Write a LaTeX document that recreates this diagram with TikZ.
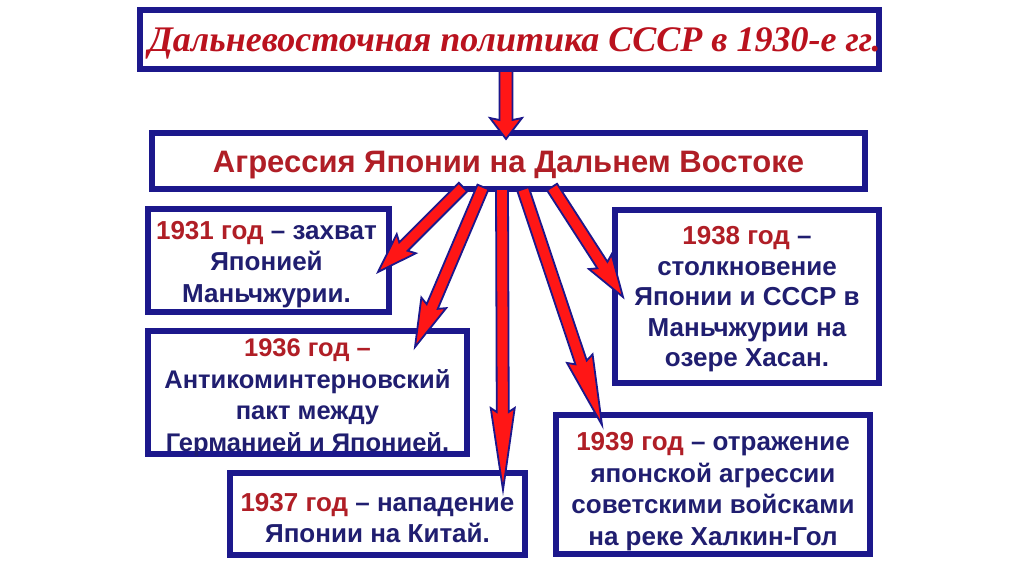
\documentclass[tikz,border=0pt]{standalone}
\usepackage{fontspec}
\setmainfont{Liberation Sans}
\newfontfamily\titlefont{Liberation Serif}
\usetikzlibrary{calc}
\definecolor{navy}{RGB}{28,24,140}
\definecolor{txtblue}{RGB}{32,30,112}
\definecolor{yr}{RGB}{176,30,38}
\definecolor{titred}{RGB}{186,18,30}
\definecolor{arrred}{RGB}{255,22,22}
\newcommand{\yr}[1]{\textcolor{yr}{#1}}
% #1 start, #2 tip, #3 shaft half width, #4 head half width, #5 neck distance, #6 barb distance
\newcommand{\fatarrow}[6]{%
  \coordinate (fan) at ($(#2)!#5!(#1)$);
  \coordinate (fab) at ($(#2)!#6!(#1)$);
  \filldraw[fatarr] ($(#1)!#3!90:(#2)$) -- ($(fan)!#3!-90:(#1)$) -- ($(fab)!#4!-90:(#1)$)
    -- (#2) -- ($(fab)!#4!90:(#1)$) -- ($(fan)!#3!90:(#1)$) -- ($(#1)!#3!-90:(#2)$) -- cycle;
}
\tikzset{
  box/.style={draw=navy, line width=6.5pt, fill=white, inner sep=0pt},
  boxtext/.style={inner sep=0pt, align=center, text=txtblue,
    font=\fontsize{26}{31.5}\selectfont\bfseries},
  fatarr/.style={fill=arrred, draw=navy, line width=1.8pt, line join=miter},
}
\begin{document}
\begin{tikzpicture}[x=1pt,y=-1pt]
\useasboundingbox (0,0) rectangle (1024,574);
\fill[white] (0,0) rectangle (1024,574);

% boxes
\node[box, minimum width=739pt, minimum height=59pt] (title) at (509.5,39.5) {};
\node[box, minimum width=713pt, minimum height=56pt] (agr) at (508.5,161) {};
\node[box, minimum width=241pt, minimum height=103pt] (b31) at (268.5,260.5) {};
\node[box, minimum width=319pt, minimum height=123pt] (b36) at (307.5,392.5) {};
\node[box, minimum width=295pt, minimum height=82pt] (b37) at (377.5,514) {};
\node[box, minimum width=264pt, minimum height=173pt] (b38) at (747,296.5) {};
\node[box, minimum width=314pt, minimum height=139pt] (b39) at (713,484.5) {};

% texts
\node[inner sep=0pt, text=titred, font=\titlefont\bfseries\itshape\fontsize{36}{40}\selectfont]
  (titleT) at ($(title)+(5,4)$) {Дальневосточная политика СССР в 1930-е гг.};
\node[inner sep=0pt, text=yr, font=\fontsize{31}{34}\selectfont\bfseries]
  (agrT) at ($(agr)+(0,4)$) {Агрессия Японии на Дальнем Востоке};
\node[boxtext] (b31T) at ($(b31)+(-2,4)$) {\yr{1931 год} – захват\\Японией\\Маньчжурии.};
\node[boxtext, font=\fontsize{25.5}{31.5}\selectfont\bfseries] (b36T) at ($(b36)+(0,5)$) {\yr{1936 год –}\\Антикоминтерновский\\пакт между\\Германией и Японией.};
\node[boxtext] (b37T) at ($(b37)+(0,4)$) {\yr{1937 год} – нападение\\Японии на Китай.};
\node[boxtext, font=\fontsize{26}{30.5}\selectfont\bfseries] (b38T) at ($(b38)+(0,3)$) {\yr{1938 год} –\\столкновение\\Японии и СССР в\\Маньчжурии на\\озере Хасан.};
\node[boxtext] (b39T) at ($(b39)+(0,7)$) {\yr{1939 год} – отражение\\японской агрессии\\советскими войсками\\на реке Халкин-Гол};

% connector end points
\coordinate (s0) at (506,71);   \coordinate (t0) at (506,139);
\coordinate (s1) at (463,187);  \coordinate (t1) at (378,272);
\coordinate (s2) at (483,187);  \coordinate (t2) at (415,347);
\coordinate (s3) at (502,189);  \coordinate (t3) at (503,490);
\coordinate (s4) at (523,189);  \coordinate (t4) at (602,425);
\coordinate (s5) at (552,187);  \coordinate (t5) at (623,297);

\fatarrow{s0}{t0}{6.5pt}{16pt}{19pt}{21pt}
\fatarrow{s1}{t1}{6pt}{13.5pt}{36pt}{40pt}
\fatarrow{s2}{t2}{6pt}{13.5pt}{44pt}{48pt}
\fatarrow{s3}{t3}{6pt}{12pt}{78pt}{82pt}
\fatarrow{s4}{t4}{6pt}{13.5pt}{66pt}{70pt}
\fatarrow{s5}{t5}{6pt}{13.5pt}{38pt}{42pt}
\end{tikzpicture}
\end{document}
